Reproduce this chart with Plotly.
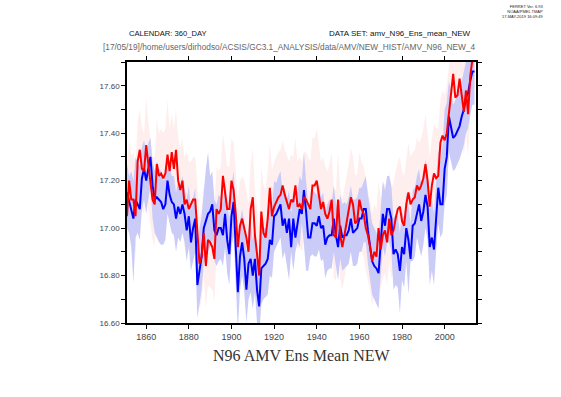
import plotly.graph_objects as go

YEARS = list(range(1851, 2015))

# Ensemble mean, blue series
BLUE = [
    17.15, 17.11, 17.07, 17.04, 17.12, 17.10, 17.08, 17.21, 17.25, 17.20,
    17.26, 17.30, 17.18, 17.12, 17.13, 17.12, 17.11, 17.08, 17.10, 17.20,
    17.14, 17.11, 17.10, 17.04, 17.09, 17.06, 17.10, 17.06, 16.99, 17.05,
    16.94, 17.00, 17.04, 16.76, 16.83, 16.88, 17.00, 17.03, 17.06, 17.07,
    17.10, 16.99, 16.97, 17.00, 17.00, 16.97, 17.06, 16.95, 16.89, 17.05,
    17.11, 16.92, 16.73, 16.88, 16.94, 16.87, 16.74, 16.85, 16.87, 16.80,
    16.87, 16.74, 16.67, 16.83, 16.84, 16.85, 16.87, 16.95, 16.93, 17.05,
    17.06, 17.08, 17.10, 17.01, 17.04, 16.98, 17.04, 16.92, 17.04, 16.96,
    17.03, 17.08, 17.06, 17.16, 17.07, 16.96, 16.96, 17.02, 17.02, 17.01,
    17.05, 17.00, 17.01, 16.93, 16.96, 16.97, 16.97, 17.04, 16.97, 16.92,
    17.01, 16.96, 16.97, 16.97, 16.99, 17.04, 16.98, 16.99, 17.00, 17.04,
    17.04, 17.08, 17.08, 16.99, 16.92, 16.86, 16.84, 16.83, 16.81, 16.94,
    17.06, 17.01, 17.08, 17.08, 17.04, 16.89, 16.91, 16.89, 16.82, 16.92,
    16.89, 17.00, 16.95, 16.87, 17.01, 17.02, 17.06, 17.10, 17.03, 17.07,
    17.14, 17.09, 16.92, 16.96, 16.91, 17.04, 17.17, 17.10, 17.10, 17.25,
    17.30, 17.47, 17.43, 17.38, 17.39, 17.41, 17.43, 17.47, 17.50, 17.55,
    17.57, 17.62, 17.66, 17.66,
]
BLUE_HI = [
    17.27, 17.22, 17.24, 17.20, 17.30, 17.28, 17.26, 17.34, 17.37, 17.32,
    17.36, 17.38, 17.28, 17.24, 17.28, 17.25, 17.24, 17.20, 17.22, 17.30,
    17.26, 17.22, 17.22, 17.15, 17.20, 17.18, 17.22, 17.17, 17.12, 17.18,
    17.08, 17.13, 17.17, 16.92, 17.00, 17.05, 17.16, 17.25, 17.32, 17.22,
    17.24, 17.12, 17.10, 17.14, 17.13, 17.10, 17.20, 17.10, 17.04, 17.18,
    17.24, 17.08, 16.90, 17.03, 17.08, 17.02, 16.90, 17.00, 17.02, 16.95,
    17.01, 16.90, 16.82, 16.98, 17.00, 17.00, 17.03, 17.10, 17.08, 17.20,
    17.19, 17.22, 17.24, 17.15, 17.17, 17.12, 17.16, 17.06, 17.17, 17.10,
    17.16, 17.22, 17.20, 17.32, 17.20, 17.10, 17.10, 17.16, 17.15, 17.14,
    17.19, 17.13, 17.15, 17.06, 17.10, 17.12, 17.11, 17.18, 17.10, 17.06,
    17.14, 17.10, 17.11, 17.10, 17.13, 17.18, 17.12, 17.12, 17.13, 17.17,
    17.17, 17.20, 17.22, 17.14, 17.08, 17.02, 17.00, 16.98, 16.96, 17.08,
    17.20, 17.16, 17.22, 17.22, 17.18, 17.04, 17.06, 17.05, 16.98, 17.07,
    17.04, 17.15, 17.10, 17.02, 17.16, 17.17, 17.22, 17.25, 17.18, 17.22,
    17.29, 17.23, 17.08, 17.12, 17.06, 17.20, 17.33, 17.28, 17.35, 17.50,
    17.53, 17.62, 17.58, 17.52, 17.54, 17.56, 17.58, 17.62, 17.66, 17.70,
    17.72, 17.76, 17.80, 17.80,
]
BLUE_LO = [
    17.00, 16.98, 16.92, 16.77, 16.96, 16.98, 16.95, 17.08, 17.12, 17.06,
    17.12, 17.18, 17.04, 16.98, 16.96, 16.94, 16.93, 16.93, 16.95, 17.06,
    17.02, 16.98, 16.97, 16.90, 16.96, 16.94, 16.98, 16.94, 16.86, 16.92,
    16.82, 16.86, 16.90, 16.62, 16.68, 16.74, 16.85, 16.88, 16.90, 16.92,
    16.95, 16.86, 16.84, 16.86, 16.87, 16.84, 16.92, 16.81, 16.76, 16.92,
    16.97, 16.77, 16.57, 16.74, 16.80, 16.73, 16.60, 16.70, 16.73, 16.66,
    16.73, 16.60, 16.55, 16.68, 16.70, 16.71, 16.72, 16.80, 16.79, 16.90,
    16.92, 16.94, 16.96, 16.87, 16.90, 16.84, 16.78, 16.90, 16.82, 16.90,
    16.94, 16.92, 17.02, 16.93, 16.82, 16.82, 16.88, 16.89, 16.88, 16.88,
    16.91, 16.86, 16.87, 16.79, 16.82, 16.83, 16.83, 16.90, 16.83, 16.78,
    16.87, 16.82, 16.83, 16.84, 16.85, 16.90, 16.84, 16.84, 16.85, 16.90,
    16.90, 16.94, 16.94, 16.85, 16.78, 16.72, 16.70, 16.68, 16.66, 16.80,
    16.92, 16.88, 16.94, 16.94, 16.90, 16.74, 16.76, 16.75, 16.64, 16.78,
    16.75, 16.86, 16.72, 16.86, 16.86, 16.88, 16.96, 16.92, 16.88, 16.93,
    17.00, 16.95, 16.76, 16.82, 16.76, 16.90, 17.02, 16.96, 16.98, 17.10,
    17.14, 17.32, 17.28, 17.24, 17.25, 17.27, 17.29, 17.32, 17.35, 17.40,
    17.42, 17.48, 17.52, 17.52,
]

# Ensemble mean, red series
RED = [
    17.05, 17.20, 17.12, 17.12, 17.05, 17.28, 17.33, 17.25, 17.24, 17.35,
    17.27, 17.20, 17.12, 17.10, 17.27, 17.22, 17.23, 17.21, 17.23, 17.31,
    17.24, 17.32, 17.25, 17.33, 17.20, 17.16, 17.20, 17.10, 17.12, 17.08,
    17.10, 17.12, 17.12, 16.99, 16.85, 16.88, 16.98, 16.84, 16.95, 16.94,
    16.92, 16.87, 17.08, 17.06, 17.08, 17.22, 17.14, 17.08, 17.08, 17.20,
    17.16, 17.06, 16.92, 17.01, 17.04, 17.00, 16.96, 16.90, 17.08, 17.13,
    16.97, 16.89, 16.80, 17.07, 16.98, 16.96, 17.04, 17.17, 17.05, 17.09,
    17.11, 17.13, 17.14, 17.18, 17.14, 17.11, 17.08, 17.12, 17.11, 17.18,
    17.09, 17.10, 17.08, 17.13, 17.12, 17.10, 17.08, 17.18, 17.18, 17.20,
    17.14, 17.08, 17.11, 17.06, 17.04, 17.07, 17.12, 16.97, 16.96, 17.12,
    16.97, 16.92, 16.97, 17.03, 17.07, 17.13, 17.10, 17.02, 17.03, 17.12,
    17.08, 17.06, 17.00, 16.97, 16.92, 16.86, 16.90, 16.88, 17.00, 16.91,
    16.97, 16.99, 16.94, 17.04, 16.97, 16.99, 17.04, 17.08, 17.09, 17.03,
    17.01, 17.10, 17.15, 17.10, 17.12, 17.13, 17.18, 17.16, 17.18, 17.21,
    17.27, 17.20, 17.09, 17.18, 17.23, 17.21, 17.22, 17.36, 17.39, 17.37,
    17.40, 17.48, 17.56, 17.65, 17.55, 17.56, 17.63, 17.56, 17.49, 17.58,
    17.48, 17.64, 17.74, 17.78,
]
RED_HI = [
    17.25, 17.38, 17.30, 17.32, 17.26, 17.45, 17.50, 17.42, 17.40, 17.55,
    17.45, 17.38, 17.30, 17.30, 17.46, 17.40, 17.42, 17.40, 17.42, 17.54,
    17.42, 17.48, 17.42, 17.50, 17.38, 17.34, 17.38, 17.30, 17.32, 17.28,
    17.28, 17.30, 17.30, 17.18, 17.05, 17.08, 17.18, 17.04, 17.14, 17.14,
    17.12, 17.08, 17.26, 17.24, 17.26, 17.40, 17.32, 17.26, 17.26, 17.38,
    17.36, 17.24, 17.12, 17.20, 17.22, 17.20, 17.16, 17.10, 17.27, 17.34,
    17.17, 17.08, 17.00, 17.26, 17.18, 17.16, 17.24, 17.36, 17.24, 17.28,
    17.30, 17.32, 17.33, 17.37, 17.33, 17.30, 17.28, 17.31, 17.30, 17.38,
    17.28, 17.30, 17.28, 17.32, 17.32, 17.30, 17.28, 17.38, 17.38, 17.42,
    17.34, 17.28, 17.30, 17.26, 17.24, 17.27, 17.32, 17.17, 17.16, 17.32,
    17.17, 17.12, 17.17, 17.22, 17.27, 17.34, 17.30, 17.22, 17.23, 17.32,
    17.28, 17.26, 17.20, 17.16, 17.12, 17.06, 17.10, 17.08, 17.20, 17.12,
    17.17, 17.19, 17.14, 17.24, 17.17, 17.19, 17.24, 17.28, 17.30, 17.24,
    17.22, 17.30, 17.36, 17.30, 17.32, 17.33, 17.38, 17.36, 17.38, 17.42,
    17.48, 17.40, 17.30, 17.38, 17.44, 17.42, 17.42, 17.54, 17.58, 17.56,
    17.60, 17.68, 17.76, 17.85, 17.75, 17.76, 17.83, 17.76, 17.68, 17.78,
    17.68, 17.85, 17.95, 17.98,
]
RED_LO = [
    16.88, 17.02, 16.95, 16.95, 16.88, 17.10, 17.15, 17.08, 17.06, 17.16,
    17.08, 17.02, 16.95, 16.92, 17.08, 17.04, 17.05, 17.02, 17.04, 17.12,
    17.06, 17.14, 17.07, 17.14, 17.02, 16.98, 17.02, 16.92, 16.94, 16.90,
    16.92, 16.94, 16.94, 16.80, 16.66, 16.70, 16.80, 16.66, 16.76, 16.75,
    16.74, 16.69, 16.90, 16.88, 16.90, 17.04, 16.96, 16.90, 16.90, 17.02,
    16.98, 16.88, 16.74, 16.83, 16.86, 16.82, 16.78, 16.72, 16.90, 16.95,
    16.79, 16.71, 16.62, 16.89, 16.80, 16.78, 16.86, 16.98, 16.87, 16.91,
    16.93, 16.95, 16.96, 16.99, 16.96, 16.93, 16.90, 16.94, 16.93, 16.99,
    16.91, 16.92, 16.90, 16.95, 16.94, 16.92, 16.90, 16.99, 16.99, 17.01,
    16.96, 16.90, 16.93, 16.88, 16.86, 16.89, 16.94, 16.79, 16.78, 16.94,
    16.79, 16.74, 16.79, 16.85, 16.89, 16.95, 16.92, 16.84, 16.85, 16.94,
    16.90, 16.88, 16.82, 16.78, 16.74, 16.67, 16.72, 16.70, 16.82, 16.74,
    16.79, 16.81, 16.76, 16.86, 16.79, 16.81, 16.86, 16.90, 16.91, 16.85,
    16.83, 16.92, 16.97, 16.92, 16.94, 16.95, 17.00, 16.98, 17.00, 17.03,
    17.09, 17.02, 16.91, 17.00, 17.05, 17.03, 17.04, 17.18, 17.21, 17.20,
    17.22, 17.30, 17.38, 17.47, 17.37, 17.38, 17.45, 17.38, 17.31, 17.40,
    17.30, 17.47, 17.56, 17.60,
]

X_TICKS = [1860, 1880, 1900, 1920, 1940, 1960, 1980, 2000]
Y_TICKS = [16.6, 16.8, 17.0, 17.2, 17.4, 17.6]
Y_LABELS = ["16.60", "16.80", "17.00", "17.20", "17.40", "17.60"]

TITLE = "N96 AMV Ens Mean NEW"
CALENDAR = "CALENDAR: 360_DAY"
DATASET = "DATA SET: amv_N96_Ens_mean_NEW"
PATH = "[17/05/19]/home/users/dirhodso/ACSIS/GC3.1_ANALYSIS/data/AMV/NEW_HIST/AMV_N96_NEW_4"
STAMP = "FERRET Ver. 6.93<br>NOAA/PMEL TMAP<br>17-MAY-2019 16:09:49"

fig = go.Figure()
fig.add_trace(go.Scatter(x=YEARS, y=RED_LO, mode="lines", line=dict(width=0),
                         hoverinfo="skip", showlegend=False))
fig.add_trace(go.Scatter(x=YEARS, y=RED_HI, mode="lines", line=dict(width=0),
                         fill="tonexty", fillcolor="#ffeeee",
                         hoverinfo="skip", showlegend=False))
fig.add_trace(go.Scatter(x=YEARS, y=BLUE_LO, mode="lines", line=dict(width=0),
                         hoverinfo="skip", showlegend=False))
fig.add_trace(go.Scatter(x=YEARS, y=BLUE_HI, mode="lines", line=dict(width=0),
                         fill="tonexty", fillcolor="#cbcbf8",
                         hoverinfo="skip", showlegend=False))
fig.add_trace(go.Scatter(x=YEARS, y=BLUE, mode="lines",
                         line=dict(color="#0000ff", width=2), showlegend=False))
fig.add_trace(go.Scatter(x=YEARS, y=RED, mode="lines",
                         line=dict(color="#ff0000", width=2), showlegend=False))

axis_font = dict(family="Liberation Sans, Arial, sans-serif", color="#444")

fig.update_layout(
    width=561, height=397,
    margin=dict(l=127, r=85, t=62, b=74),
    paper_bgcolor="white", plot_bgcolor="white",
    showlegend=False,
    hovermode=False,
    xaxis=dict(
        range=[1851, 2014.7], tickvals=X_TICKS, ticktext=[str(v) for v in X_TICKS],
        ticks="outside", ticklen=4, tickwidth=1, tickcolor="black",
        showline=True, linecolor="black", linewidth=1.5, mirror="allticks",
        showgrid=False, zeroline=False,
        tickfont=dict(size=9, **axis_font),
    ),
    yaxis=dict(
        range=[16.6, 17.7], tickvals=Y_TICKS, ticktext=Y_LABELS,
        ticks="outside", ticklen=4, tickwidth=1, tickcolor="black",
        showline=True, linecolor="black", linewidth=1.5, mirror="allticks",
        showgrid=False, zeroline=False,
        tickfont=dict(size=8, **axis_font),
        minor=dict(dtick=0.1, tick0=16.6, ticks="outside", ticklen=4,
                   tickcolor="black", showgrid=False),
    ),
)

fig.add_annotation(text=CALENDAR, xref="paper", yref="paper", x=0.0, y=1.111,
                   xanchor="left", yanchor="middle", showarrow=False,
                   font=dict(family="Liberation Sans, Arial, sans-serif", size=7.6, color="#111"))
fig.add_annotation(text=DATASET, xref="paper", yref="paper", x=0.991, y=1.111,
                   xanchor="right", yanchor="middle", showarrow=False,
                   font=dict(family="Liberation Sans, Arial, sans-serif", size=8, color="#111"))
fig.add_annotation(text=PATH, xref="paper", yref="paper", x=1.003, y=1.057,
                   xanchor="right", yanchor="middle", showarrow=False,
                   font=dict(family="Liberation Sans, Arial, sans-serif", size=8.3, color="#666"))
fig.add_annotation(text=STAMP, xref="paper", yref="paper", x=1.198, y=1.195,
                   xanchor="right", yanchor="middle", showarrow=False, align="right",
                   font=dict(family="Liberation Sans, Arial, sans-serif", size=4, color="#222"))
fig.add_annotation(text=TITLE, xref="paper", yref="paper", x=0.5, y=-0.126,
                   xanchor="center", yanchor="middle", showarrow=False,
                   font=dict(family="Liberation Serif, Times New Roman, serif", size=16, color="#333"))

fig.write_html("out.html", config={"displayModeBar": False},
               post_script="document.body.style.margin='0px';")
